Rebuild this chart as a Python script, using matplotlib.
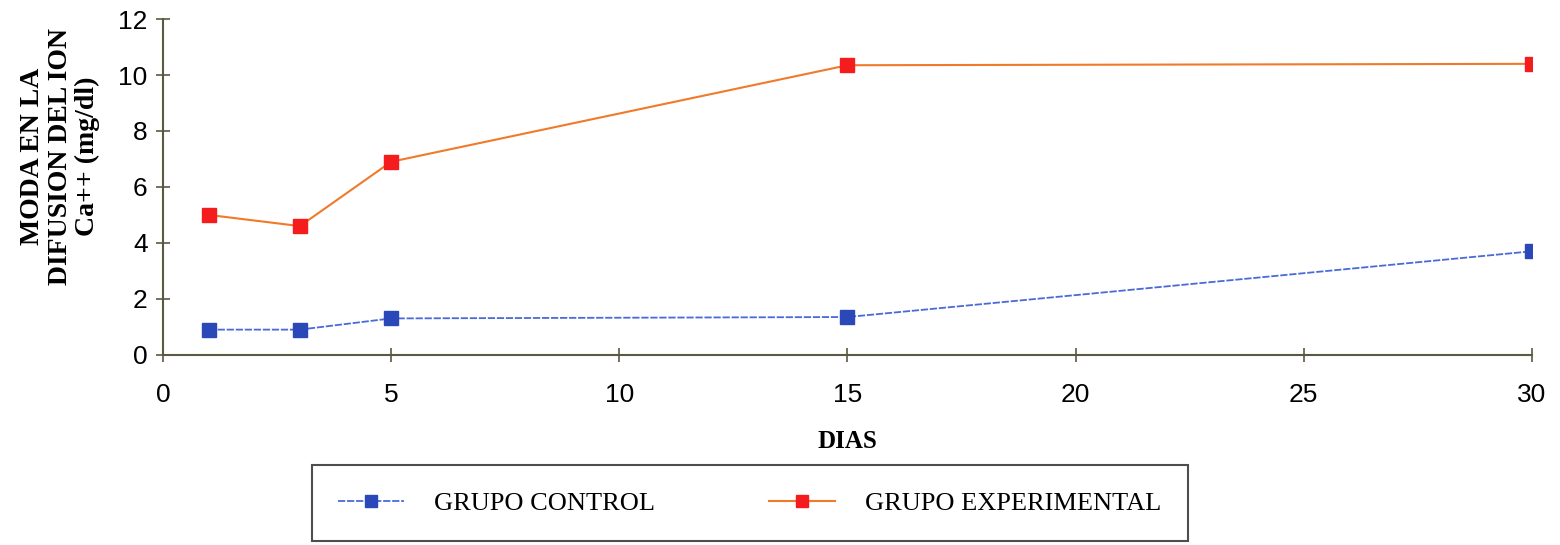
import numpy as np
import matplotlib.pyplot as plt

# days of measurement and mode of Ca++ ion diffusion (mg/dl)
dias = [1, 3, 5, 15, 30]
grupo_control = [0.9, 0.9, 1.3, 1.35, 3.7]
grupo_experimental = [5.0, 4.6, 6.9, 10.35, 10.4]

serif = ['Liberation Serif', 'DejaVu Serif']
sans = ['Liberation Sans', 'DejaVu Sans']

fig = plt.figure(figsize=(15.6, 5.45), dpi=100)
ax = fig.add_axes([0.1045, 0.349, 0.8775, 0.616])

ax.plot(dias, grupo_control, color='#4a6ad8', lw=1.3, ls=(0, (4, 1)),
        marker='s', ms=10, mfc='#2a48b8', mec='#2a48b8',
        label='GRUPO CONTROL')
ax.plot(dias, grupo_experimental, color='#f07a2a', lw=1.5,
        marker='s', ms=10, mfc='#f41c1c', mec='#f41c1c',
        label='GRUPO EXPERIMENTAL')

ax.set_xlim(0, 30)
ax.set_ylim(0, 12)
ax.set_xticks(np.arange(0, 31, 5))
ax.set_yticks(np.arange(0, 13, 2))
for s in ['top', 'right']:
    ax.spines[s].set_visible(False)
for s in ['left', 'bottom']:
    ax.spines[s].set_color('#5a5a40')
    ax.spines[s].set_linewidth(1.5)
ax.tick_params(direction='inout', length=10, width=1.2, color='#5a5a40',
               labelsize=19)
ax.tick_params(axis='x', pad=15)
ax.tick_params(axis='y', pad=6)
for lbl in ax.get_xticklabels() + ax.get_yticklabels():
    lbl.set_family(sans)

ax.set_xlabel('DIAS', family=serif, fontweight='bold', fontsize=18,
              labelpad=17)
ax.set_ylabel('MODA EN LA\nDIFUSION DEL ION\nCa++ (mg/dl)', family=serif,
              fontweight='bold', fontsize=20, linespacing=1.12)
ax.yaxis.set_label_coords(-0.046, 0.59)

leg = ax.legend(loc='upper center', bbox_to_anchor=(0.4285, -0.328), ncol=2,
                frameon=True, fancybox=False, edgecolor='#222222',
                prop={'family': serif, 'size': 19}, handlelength=2.5,
                columnspacing=4.3, borderpad=1.0, handletextpad=1.15,
                borderaxespad=0, markerscale=0.85)
leg.get_frame().set_linewidth(1.5)

fig.savefig('out.png', dpi=100)
